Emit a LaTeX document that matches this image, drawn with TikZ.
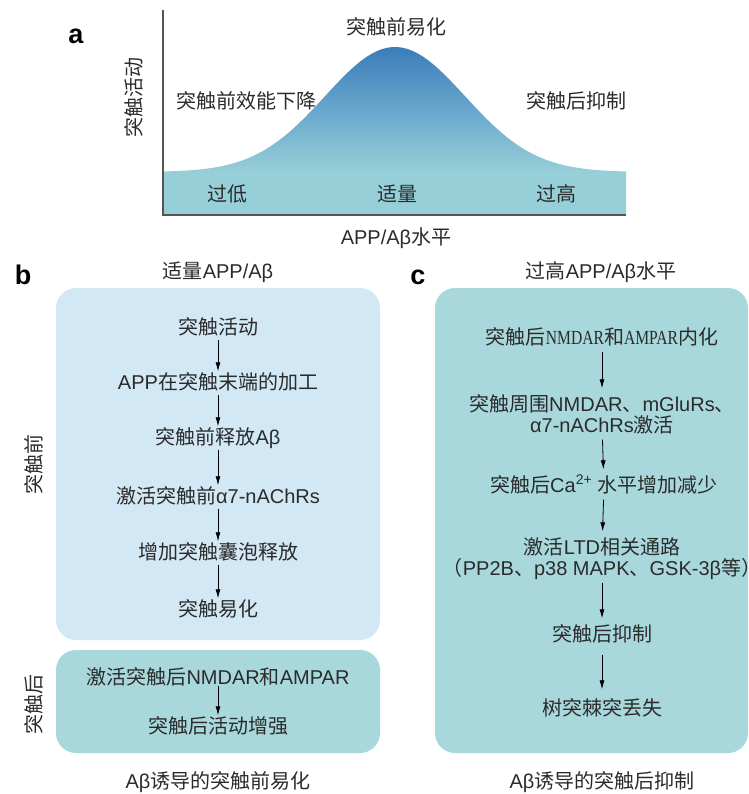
\documentclass[tikz,border=0pt]{standalone}
\usepackage{fontspec}
\setmainfont{Liberation Sans}
\newfontfamily\cjk{Noto Sans CJK SC}
\newfontfamily\narrowrm[FakeStretch=0.78]{Liberation Serif}
\newcommand{\zh}[1]{{\cjk #1}}
\newcommand{\nrm}[1]{{\narrowrm #1}}
\usetikzlibrary{arrows.meta}

\definecolor{txtgray}{HTML}{2B2B2B}
\definecolor{axisgray}{HTML}{555555}
\definecolor{bellblue}{HTML}{3B7DB9}
\definecolor{bellmid}{HTML}{6AA7CD}
\definecolor{bellteal}{HTML}{96CFD8}
\definecolor{boxlight}{HTML}{D2E9F5}
\definecolor{boxteal}{HTML}{A9D8DC}

% vertical fill of the bell: teal at the bottom, blue at the top
\pgfdeclareverticalshading{bellshade}{100bp}{color(0bp)=(bellteal); color(38bp)=(bellteal); color(56bp)=(bellmid); color(75bp)=(bellblue); color(100bp)=(bellblue)}

\begin{document}
\begin{tikzpicture}[x=1pt, y=-1pt,
    txt/.style={font=\fontsize{20}{22}\selectfont, text=txtgray, inner sep=2pt, text height=16pt, text depth=3pt},
    lab/.style={font=\fontsize{27}{30}\selectfont\bfseries, text=black},
    flow/.style={-{Latex[length=9pt,width=5pt]}, line width=0.8pt},
    cflow/.style={flow, shorten <=2pt, shorten >=5pt},
    axis/.style={draw=axisgray, line width=1.5pt}]
    \useasboundingbox (0,0) rectangle (748,794);

    % (a) bell curve over the two axes
    \shade[shading=bellshade] (163,215) -- plot[domain=163:626, samples=90] (\x, {172-125*exp(-0.5*((\x-395)/70)^2)}) -- (626,215) -- cycle;
    \draw[axis] (163,10) -- (163,215) -- (626,215);
    \node[lab] (la) at (76,36) {a};
    \node[txt, rotate=90] (ylab) at (135,98) {\zh{突触活动}};
    \node[txt] (xlab) at (396,238) {APP/Aβ\zh{水平}};
    \node[txt] (top) at (396,28) {\zh{突触前易化}};
    \node[txt] (left) at (246,102) {\zh{突触前效能下降}};
    \node[txt] (right) at (576,102) {\zh{突触后抑制}};
    \node[txt] (low) at (227,195) {\zh{过低}};
    \node[txt] (mid) at (397,195) {\zh{适量}};
    \node[txt] (high) at (556,195) {\zh{过高}};

    % (b) moderate level
    \fill[boxlight, rounded corners=20pt] (56,288) rectangle (380,640);
    \fill[boxteal, rounded corners=20pt] (56,650) rectangle (380,753);
    \node[lab] (lb) at (23,275) {b};
    \node[txt] (btitle) at (218,272) {\zh{适量}APP/Aβ};
    \node[txt, rotate=90] (pre) at (35,464) {\zh{突触前}};
    \node[txt, rotate=90] (post) at (35,704) {\zh{突触后}};
    \node[txt] (b1) at (218,328) {\zh{突触活动}};
    \node[txt] (b2) at (218,383) {APP\zh{在突触末端的加工}};
    \node[txt] (b3) at (218,438) {\zh{突触前释放}Aβ};
    \node[txt] (b4) at (218,497) {\zh{激活突触前}α7-nAChRs};
    \node[txt] (b5) at (218,553) {\zh{增加突触囊泡释放}};
    \node[txt] (b6) at (218,610) {\zh{突触易化}};
    \node[txt] (b7) at (218,678) {\zh{激活突触后}NMDAR\zh{和}AMPAR};
    \node[txt] (b8) at (218,727) {\zh{突触后活动增强}};
    \node[txt] (bcap) at (218,782) {Aβ\zh{诱导的突触前易化}};
    \foreach \a/\b in {b1/b2, b2/b3, b3/b4, b4/b5, b5/b6}
        \draw[flow] (\a) -- (\b);
    \draw[flow, shorten <=-4pt] (b7) -- (b8);

    % (c) high level
    \fill[boxteal, rounded corners=20pt] (435,288) rectangle (748,753);
    \node[lab] (lc) at (418,277) {c};
    \node[txt] (ctitle) at (601,272) {\zh{过高}APP/Aβ\zh{水平}};
    \node[txt] (c1) at (602,338) {\zh{突触后}\nrm{NMDAR}\zh{和}\nrm{AMPAR}\zh{内化}};
    \node[txt] (c2) at (602,405) {\zh{突触周围}NMDAR\zh{、}mGluRs\zh{、}};
    \node[txt] (c2x) at (602,426) {α7-nAChRs\zh{激活}};
    \node[txt] (c3) at (604,486) {\zh{突触后}Ca\textsuperscript{2+} \zh{水平增加减少}};
    \node[txt] (c4) at (602,548) {\zh{激活}LTD\zh{相关通路}};
    \node[txt] (c4x) at (602,569) {\zh{（}PP2B\zh{、}p38 MAPK\zh{、}GSK-3β\zh{等）}};
    \node[txt] (c5) at (602,635) {\zh{突触后抑制}};
    \node[txt] (c6) at (602,709) {\zh{树突棘突丢失}};
    \node[txt] (ccap) at (602,782) {Aβ\zh{诱导的突触后抑制}};
    \draw[cflow] (c1) -- (c2);
    \draw[cflow] (c2x) -- (c3);
    \draw[cflow] (c3) -- (c4);
    \draw[cflow] (c4x) -- (c5);
    \draw[cflow, shorten <=8pt, shorten >=8pt] (c5) -- (c6);
\end{tikzpicture}
\end{document}
